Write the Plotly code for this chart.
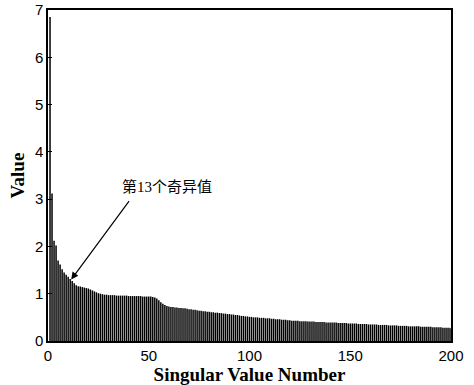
import plotly.graph_objects as go

# Singular values (index 1..200)
sv_part1 = [6.85, 3.12, 2.12, 2.02, 1.70, 1.62, 1.52, 1.45, 1.40, 1.36,
            1.31, 1.27, 1.22, 1.18, 1.16, 1.15, 1.14, 1.13, 1.12, 1.11,
            1.09, 1.07, 1.05, 1.03, 1.01, 1.00, 0.99, 0.98, 0.98, 0.97,
            0.97, 0.97, 0.97, 0.96, 0.96, 0.96, 0.96, 0.96, 0.96, 0.95,
            0.95, 0.95, 0.95, 0.95, 0.95, 0.95, 0.94, 0.94, 0.94, 0.94]
sv_part2 = [0.94, 0.93, 0.92, 0.90, 0.86, 0.82, 0.79, 0.76, 0.74, 0.73,
            0.72, 0.72, 0.71, 0.71, 0.70, 0.70, 0.69, 0.69, 0.68, 0.67,
            0.67, 0.66, 0.66, 0.65, 0.64, 0.64, 0.63, 0.63, 0.62, 0.62,
            0.61, 0.61, 0.60, 0.60, 0.59, 0.59, 0.58, 0.58, 0.57, 0.57,
            0.56, 0.56, 0.55, 0.55, 0.54, 0.53, 0.53, 0.52, 0.52, 0.51]
sv_part3 = [0.51, 0.50, 0.50, 0.50, 0.49, 0.49, 0.49, 0.48, 0.48, 0.48,
            0.47, 0.47, 0.46, 0.46, 0.46, 0.45, 0.45, 0.45, 0.44, 0.44,
            0.43, 0.43, 0.43, 0.43, 0.42, 0.42, 0.42, 0.42, 0.41, 0.41,
            0.41, 0.41, 0.40, 0.40, 0.40, 0.40, 0.40, 0.39, 0.39, 0.39,
            0.39, 0.39, 0.39, 0.38, 0.38, 0.38, 0.38, 0.38, 0.37, 0.37]
sv_part4 = [0.37, 0.37, 0.37, 0.36, 0.36, 0.36, 0.36, 0.36, 0.35, 0.35,
            0.35, 0.35, 0.35, 0.34, 0.34, 0.34, 0.34, 0.34, 0.33, 0.33,
            0.33, 0.33, 0.33, 0.32, 0.32, 0.32, 0.32, 0.32, 0.31, 0.31,
            0.31, 0.31, 0.31, 0.31, 0.30, 0.30, 0.30, 0.30, 0.30, 0.30,
            0.29, 0.29, 0.29, 0.29, 0.29, 0.28, 0.28, 0.28, 0.28, 0.27]
singular_values = sv_part1 + sv_part2 + sv_part3 + sv_part4
indices = list(range(1, len(singular_values) + 1))

x_ticks = [0, 50, 100, 150, 200]
y_ticks = [0, 1, 2, 3, 4, 5, 6, 7]
annot_text = "第13个奇异值"
annot_point = (11.5, 1.30)

# vertical stems built from the data arrays
stem_x, stem_y = [], []
for i, v in zip(indices, singular_values):
    stem_x += [i, i, None]
    stem_y += [0, v, None]

fig = go.Figure()
fig.add_trace(go.Scatter(x=stem_x, y=stem_y, mode="lines",
                         line=dict(color="#000000", width=1.5),
                         connectgaps=False, showlegend=False, hoverinfo="skip"))

serif_bold = "Liberation Serif, Times New Roman, serif"
fig.update_layout(
    width=474, height=385,
    margin=dict(l=48, r=23, t=10, b=44),
    paper_bgcolor="white", plot_bgcolor="white",
    xaxis=dict(range=[0, 200], tickvals=x_ticks, ticks="inside", ticklen=4,
               tickcolor="black", showline=True, linecolor="black", linewidth=1.5,
               mirror=True, showgrid=False, zeroline=False, automargin=False,
               tickfont=dict(family="Liberation Sans, Arial", size=15, color="black"),
               title=dict(text="<b>Singular Value Number</b>", standoff=4,
                          font=dict(family=serif_bold, size=19, color="black"))),
    yaxis=dict(range=[0, 7], tickvals=y_ticks, ticks="inside", ticklen=4,
               tickcolor="black", showline=True, linecolor="black", linewidth=1.5,
               mirror=True, showgrid=False, zeroline=False, automargin=False,
               tickfont=dict(family="Liberation Sans, Arial", size=15, color="black"),
               title=dict(text="<b>Value</b>", standoff=5,
                          font=dict(family=serif_bold, size=19, color="black"))),
)

# arrow
fig.add_annotation(x=annot_point[0], y=annot_point[1], xref="x", yref="y",
                   text="", showarrow=True, arrowhead=2, arrowsize=1.2,
                   arrowwidth=1.2, arrowcolor="black", ax=59, ay=-80)
# label
fig.add_annotation(x=59, y=3.26, xref="x", yref="y", text=annot_text,
                   showarrow=False,
                   font=dict(family="Liberation Serif, Noto Sans CJK SC", size=15,
                             color="black"))

fig.write_html("out.html")
